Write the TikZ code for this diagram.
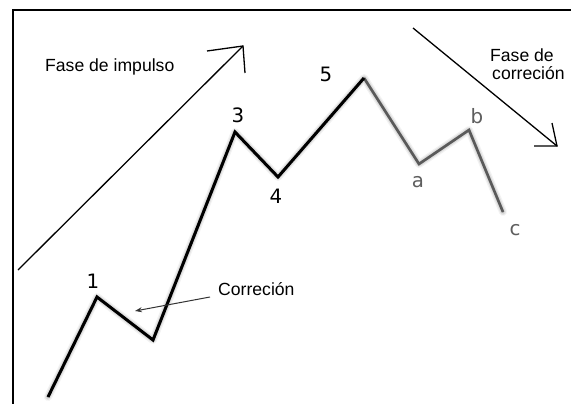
\documentclass[tikz,border=0pt]{standalone}
\usepackage{fontspec}
\setmainfont{Liberation Sans}
\newfontfamily\lblfont{DejaVu Sans}
\usetikzlibrary{arrows.meta}
\definecolor{wavegray}{HTML}{5A5A5A}
\definecolor{lblgray}{HTML}{5E5E5E}
\begin{document}
\begin{tikzpicture}[x=1pt,y=-1pt,
  txt/.style={font=\fontsize{17.6}{20}\selectfont,inner sep=0pt,anchor=base west},
  lbl/.style={font=\lblfont\fontsize{19.8}{22}\selectfont,inner sep=0pt,anchor=base},
  impulse/.style={line width=3pt,black,line join=miter,line cap=butt},
  corr/.style={line width=2.6pt,wavegray,line join=miter,line cap=butt},
  shadowA/.style={line width=8pt,black,opacity=0.05,line join=round,line cap=round},
  shadowB/.style={line width=5.5pt,black,opacity=0.08,line join=round,line cap=round},
  shadowC/.style={line width=3pt,black,opacity=0.12,line join=round,line cap=round},
  bigarrow/.style={line width=1.3pt,black},
  headline/.style={line width=1.3pt,black}]
\useasboundingbox (0,0) rectangle (571,404);
\fill[white] (0,0) rectangle (571,404);
% frame
\coordinate (ftl) at (13,10);
\coordinate (ftr) at (571,10);
\coordinate (fbl) at (13,404);
\draw[line width=2pt] (ftr) -- (ftl) -- (fbl);
% wave points
\coordinate (w0) at (48,397);
\coordinate (w1) at (97,297);
\coordinate (w2) at (153,340);
\coordinate (w3) at (235,132);
\coordinate (w4) at (278,177);
\coordinate (w5) at (364,78);
\coordinate (wa) at (419,164);
\coordinate (wb) at (469,130);
\coordinate (wc) at (503,212);
% shadows
\begin{scope}[shift={(2.5,3.5)}]
  \foreach \s in {shadowA,shadowB,shadowC}{
    \draw[\s] (w0) -- (w1) -- (w2) -- (w3) -- (w4) -- (w5) -- (wa) -- (wb) -- (wc);
  }
\end{scope}
% wave
\draw[corr] (w5) -- (wa) -- (wb) -- (wc);
\draw[impulse] (w0) -- (w1) -- (w2) -- (w3) -- (w4) -- (w5);
% labels
\node[lbl] (l1) at (93,288) {1};
\node[lbl] (l3) at (238,122) {3};
\node[lbl] (l4) at (276,204) {4};
\node[lbl] (l5) at (326,82) {5};
\node[lbl,text=lblgray] (la) at (418,187) {a};
\node[lbl,text=lblgray] (lb) at (477,124) {b};
\node[lbl,text=lblgray] (lc) at (515,235) {c};
% impulse arrow
\coordinate (ia0) at (18,270);
\coordinate (ia1) at (243,46);
\coordinate (iah1) at (207,51);
\coordinate (iah2) at (245,73);
\draw[bigarrow] (ia0) -- (ia1);
\draw[headline] (iah1) -- (ia1) -- (iah2);
% correction arrow
\coordinate (ca0) at (413,28);
\coordinate (ca1) at (557,146);
\coordinate (cah1) at (534,146);
\coordinate (cah2) at (552,123);
\draw[bigarrow] (ca0) -- (ca1);
\draw[headline] (cah1) -- (ca1) -- (cah2);
% texts
\node[txt] (timp) at (45,72) {Fase de impulso};
\node[txt] (tcor1) at (490,62) {Fase de};
\node[txt] (tcor2) at (492,80) {correción};
\node[txt] (tc) at (218,295) {Correción};
% small arrow
\coordinate (sa0) at (210,297);
\coordinate (sa1) at (135,311);
\draw[line width=1pt,black!80,-{Stealth[length=7pt,width=5pt]}] (sa0) -- (sa1);
\end{tikzpicture}
\end{document}
